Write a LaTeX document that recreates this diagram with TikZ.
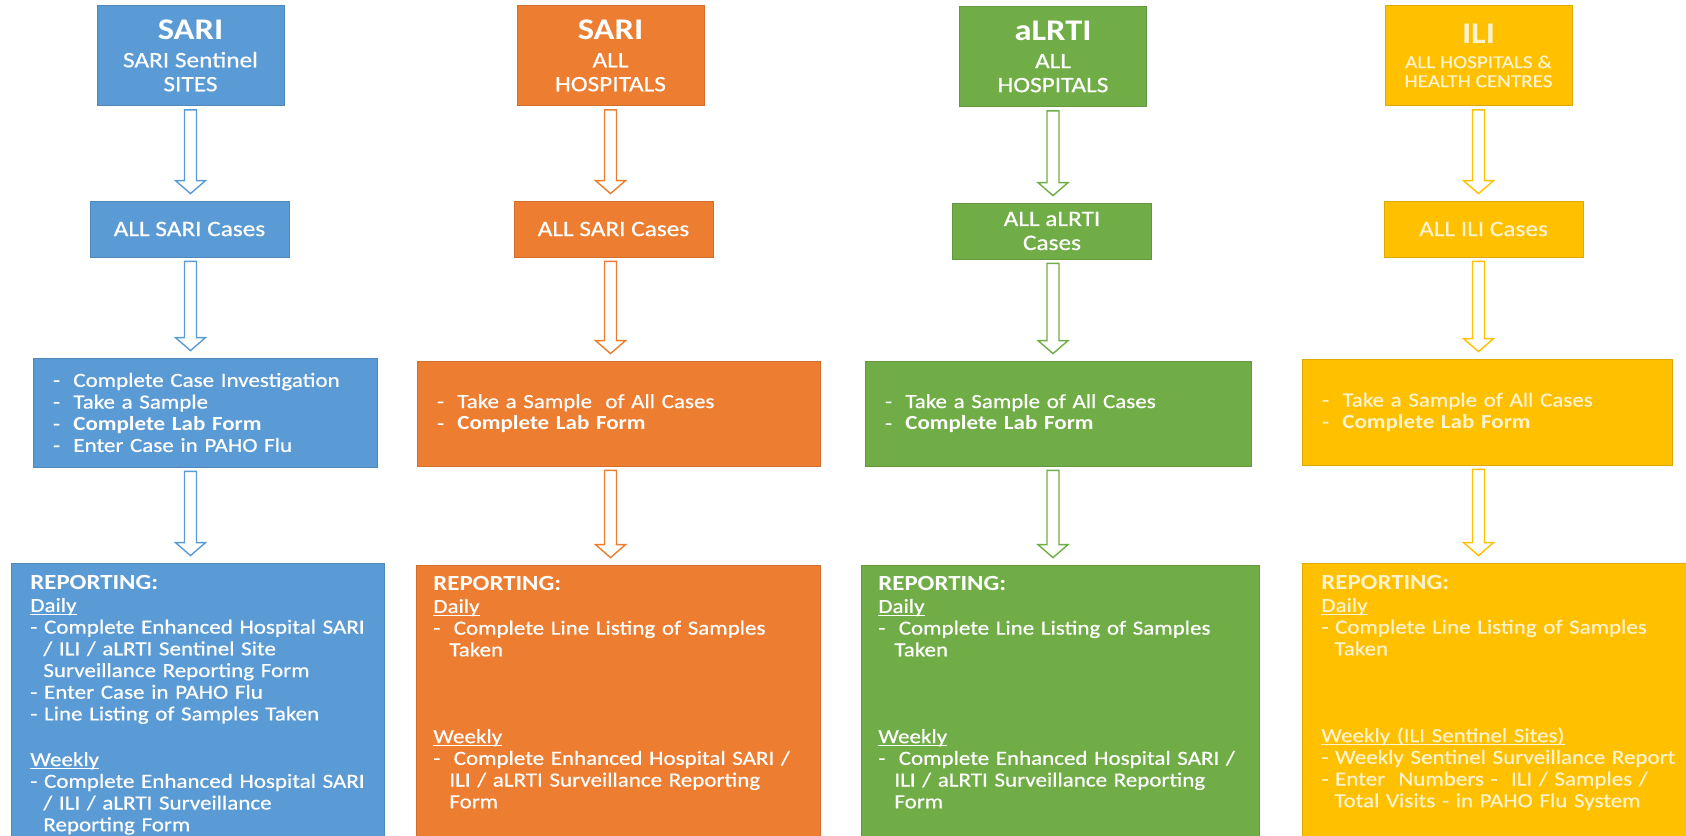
\documentclass[tikz,border=0pt]{standalone}
\usepackage{fontspec}
\setmainfont{Carlito}[FakeStretch=1.15, UprightFeatures={FakeBold=0.6}]
\usetikzlibrary{calc}
\definecolor{cBlue}{RGB}{91,155,213}
\definecolor{cOrange}{RGB}{237,125,49}
\definecolor{cGreen}{RGB}{112,173,71}
\definecolor{cYellow}{RGB}{255,192,0}
\definecolor{cYText}{RGB}{255,243,205}
\newcommand\bigttl[1]{{\fontsize{15pt}{15pt}\selectfont\bfseries #1}}
\newcommand\hg[1]{\hspace*{#1}}
\newcommand\uline[1]{\leavevmode\setbox0\hbox{#1}\rlap{\rule[-1.3pt]{\wd0}{0.5pt}}\box0}
\newcommand\blkarrow[4]{%
  \path (#1.south |- #2.south) coordinate (#2-out) (#1.south |- #3.north) coordinate (#3-in);
  \draw[hollow, draw=#4] ([shift={(-6,4)}]#2-out) -- ([shift={(6,4)}]#2-out)
    -- ([shift={(6,-20)}]#3-in) -- ([shift={(15,-20)}]#3-in) -- ([shift={(0,-7)}]#3-in)
    -- ([shift={(-15,-20)}]#3-in) -- ([shift={(-6,-20)}]#3-in) -- cycle;
}
\tikzset{
  box/.style={rectangle, fill=#1, draw=#1!88!black, line width=0.4pt, inner sep=0pt, text=white, align=center},
  topbox/.style={box=#1, minimum width=93.5pt, minimum height=50pt, font=\fontsize{11pt}{12pt}\selectfont},
  casebox/.style={box=#1, minimum width=99.5pt, minimum height=28pt, font=\fontsize{11pt}{12pt}\selectfont},
  listbox/.style={box=#1, align=left, font=\fontsize{10pt}{10.85pt}\selectfont},
  reptext/.style={anchor=base west, inner sep=0pt, text=white, align=left, font=\fontsize{10pt}{10.85pt}\selectfont, text width=185pt},
  hollow/.style={fill=white, line width=0.7pt, line join=miter},
}
\begin{document}
\begin{tikzpicture}[x=0.5pt, y=-0.5pt]
\useasboundingbox (0,0) rectangle (1686,835);
\clip (0,0) rectangle (1686,835);

% ---------- column 1 (blue)
\node[topbox=cBlue] (T1) at (190.5,55.5) {\bigttl{SARI}\\[2pt] SARI Sentinel\\ SITES};
\node[casebox=cBlue] (C1) at (189.5,229) {ALL SARI Cases};
\node[listbox=cBlue, minimum width=172pt, minimum height=54.5pt, text width=152pt] (B1) at (205,412.5)
  {-~~Complete Case Investigation\\ -~~Take a Sample\\ -~~\textbf{Complete Lab Form}\\ -~~Enter Case in PAHO Flu};
\node[box=cBlue, minimum width=186.5pt, minimum height=141pt] (R1) at (197.5,704) {};
\node[reptext] (R1t) at (30,589) {{\fontsize{10.8pt}{10.85pt}\selectfont\bfseries REPORTING:}\\[0.6pt]
  \uline{Daily}\\
  - Complete Enhanced Hospital SARI\\
  \hg{6.5pt}/ ILI / aLRTI Sentinel Site\\
  \hg{6.5pt}Surveillance Reporting Form\\
  - Enter Case in PAHO Flu\\
  - Line Listing of Samples Taken\\[12pt]
  \uline{Weekly}\\
  - Complete Enhanced Hospital SARI\\
  \hg{6.5pt}/ ILI / aLRTI Surveillance\\
  \hg{6.5pt}Reporting Form};

% ---------- column 2 (orange)
\node[topbox=cOrange] (T2) at (610.5,55.5) {\bigttl{SARI}\\[2pt] ALL\\ HOSPITALS};
\node[casebox=cOrange] (C2) at (613.5,229) {ALL SARI Cases};
\node[listbox=cOrange, minimum width=201.5pt, minimum height=52.5pt, text width=181.5pt] (B2) at (618.5,413.5)
  {-~~Take a Sample~ of All Cases\\ -~~\textbf{Complete Lab Form}};
\node[box=cOrange, minimum width=202pt, minimum height=140pt] (R2) at (618,705) {};
\node[reptext] (R2t) at (433,590) {{\fontsize{10.8pt}{10.85pt}\selectfont\bfseries REPORTING:}\\[0.6pt]
  \uline{Daily}\\
  -~~Complete Line Listing of Samples\\
  \hg{8pt}Taken\\[32.55pt]
  \uline{Weekly}\\
  -~~Complete Enhanced Hospital SARI /\\
  \hg{8pt}ILI / aLRTI Surveillance Reporting\\
  \hg{8pt}Form};

% ---------- column 3 (green)
\node[topbox=cGreen] (T3) at (1053,56.5) {\bigttl{aLRTI}\\[2pt] ALL\\ HOSPITALS};
\node[casebox=cGreen] (C3) at (1052,231) {ALL aLRTI\\ Cases};
\node[listbox=cGreen, minimum width=193pt, minimum height=52.5pt, text width=173pt] (B3) at (1058,413.5)
  {-~~Take a Sample of All Cases\\ -~~\textbf{Complete Lab Form}};
\node[box=cGreen, minimum width=199pt, minimum height=140pt] (R3) at (1060,705) {};
\node[reptext] (R3t) at (878,590) {{\fontsize{10.8pt}{10.85pt}\selectfont\bfseries REPORTING:}\\[0.6pt]
  \uline{Daily}\\
  -~~Complete Line Listing of Samples\\
  \hg{8pt}Taken\\[32.55pt]
  \uline{Weekly}\\
  -~~Complete Enhanced Hospital SARI /\\
  \hg{8pt}ILI / aLRTI Surveillance Reporting\\
  \hg{8pt}Form};

% ---------- column 4 (yellow)
\node[topbox=cYellow, text=cYText, font=\fontsize{9.2pt}{9.5pt}\selectfont] (T4) at (1478.5,55.5)
  {\bigttl{ILI}\\[3pt] ALL HOSPITALS \&\\ HEALTH CENTRES};
\node[casebox=cYellow, text=cYText] (C4) at (1483.5,229) {ALL ILI Cases};
\node[listbox=cYellow, text=cYText, minimum width=185pt, minimum height=53pt, text width=165pt] (B4) at (1487,412)
  {-~~Take a Sample of All Cases\\ -~~\textbf{Complete Lab Form}};
\node[box=cYellow, minimum width=199pt, minimum height=141pt] (R4) at (1501,704) {};
\node[reptext, text=cYText] (R4t) at (1321,589) {{\fontsize{10.8pt}{10.85pt}\selectfont\bfseries REPORTING:}\\[0.6pt]
  \uline{Daily}\\
  - Complete Line Listing of Samples\\
  \hg{6.5pt}Taken\\[32.55pt]
  \uline{Weekly (ILI Sentinel Sites)}\\
  - Weekly Sentinel Surveillance Report\\
  - Enter~ Numbers -~ ILI / Samples /\\
  \hg{6.5pt}Total Visits - in PAHO Flu System};

% ---------- block arrows
\blkarrow{T1}{T1}{C1}{cBlue}
\blkarrow{T1}{C1}{B1}{cBlue}
\blkarrow{T1}{B1}{R1}{cBlue}
\blkarrow{T2}{T2}{C2}{cOrange}
\blkarrow{T2}{C2}{B2}{cOrange}
\blkarrow{T2}{B2}{R2}{cOrange}
\blkarrow{T3}{T3}{C3}{cGreen}
\blkarrow{T3}{C3}{B3}{cGreen}
\blkarrow{T3}{B3}{R3}{cGreen}
\blkarrow{T4}{T4}{C4}{cYellow}
\blkarrow{T4}{C4}{B4}{cYellow}
\blkarrow{T4}{B4}{R4}{cYellow}
\end{tikzpicture}
\end{document}
